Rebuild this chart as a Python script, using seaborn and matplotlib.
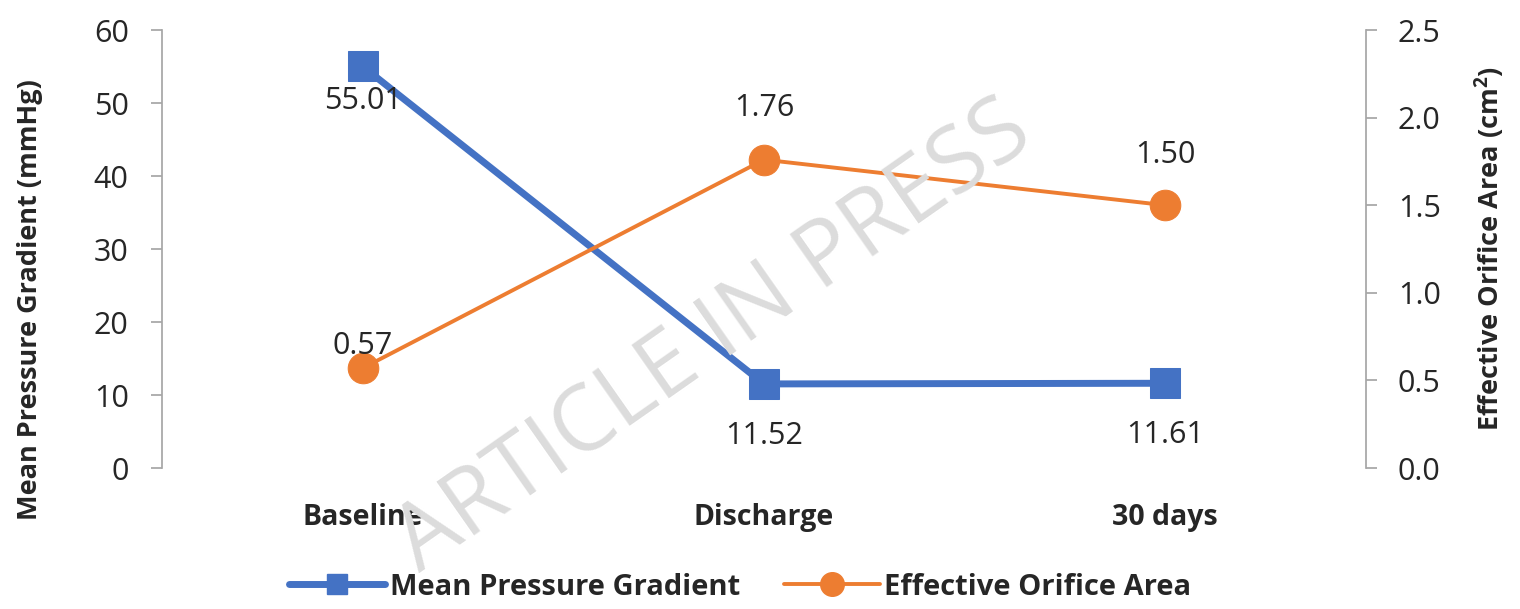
import matplotlib
matplotlib.use("Agg")
import matplotlib.pyplot as plt
import seaborn as sns
import pandas as pd
from matplotlib.lines import Line2D

categories = ["Baseline", "Discharge", "30 days"]
mpg_values = [55.01, 11.52, 11.61]
eoa_values = [0.57, 1.76, 1.50]
mpg_labels = ["55.01", "11.52", "11.61"]
eoa_labels = ["0.57", "1.76", "1.50"]
left_ticks = [0, 10, 20, 30, 40, 50, 60]
right_ticks = [0.0, 0.5, 1.0, 1.5, 2.0, 2.5]

# label offsets (pixels, styling only)
mpg_offsets = [-35, -52, -52]
eoa_offsets = [22, 52, 50]

sns.set_theme(style="white")
plt.rcParams["font.family"] = ["Open Sans", "DejaVu Sans"]
plt.rcParams["mathtext.fontset"] = "custom"
plt.rcParams["mathtext.bf"] = "Open Sans:bold"
plt.rcParams["mathtext.rm"] = "Open Sans"

BLUE = "#4472C4"
ORANGE = "#ED7D31"

df = pd.DataFrame({"x": list(range(len(categories))), "mpg": mpg_values, "eoa": eoa_values})

fig = plt.figure(figsize=(15.2, 6.09), dpi=100)
ax = fig.add_axes([0.1066, 0.2315, 0.7921, 0.7192])
ax2 = ax.twinx()

fig.text(0.47, 0.445, "ARTICLE IN PRESS", fontsize=66, color="#dcdcdc",
         rotation=35, ha="center", va="center", zorder=0)

sns.lineplot(data=df, x="x", y="mpg", ax=ax, color=BLUE, linewidth=5,
             marker="s", markersize=21, markeredgecolor=BLUE, markerfacecolor=BLUE, zorder=3)
sns.lineplot(data=df, x="x", y="eoa", ax=ax2, color=ORANGE, linewidth=2.8,
             marker="o", markersize=22, markeredgecolor=ORANGE, markerfacecolor=ORANGE, zorder=3)

ax.set_xlim(-0.5, 2.5)
ax.set_ylim(0, 60)
ax2.set_ylim(0, 2.5)
ax.set_yticks(left_ticks)
ax.set_yticklabels([str(t) for t in left_ticks])
ax2.set_yticks(right_ticks)
ax2.set_yticklabels([f"{t:.1f}" for t in right_ticks])
ax.set_xticks(range(len(categories)))
ax.set_xticklabels(categories, fontweight="bold", fontsize=20.5)

for a in (ax, ax2):
    a.patch.set_alpha(0)
    for s in a.spines.values():
        s.set_visible(False)
ax.spines["left"].set_visible(True)
ax.spines["left"].set_color("#a6a6a6")
ax2.spines["right"].set_visible(True)
ax2.spines["right"].set_color("#a6a6a6")

ax.tick_params(axis="y", which="both", left=True, length=8, color="#a6a6a6", labelsize=22, pad=16)
ax.tick_params(axis="x", bottom=False, pad=19)
ax2.tick_params(axis="y", which="both", right=True, length=8, color="#a6a6a6", labelsize=22, pad=15)

ax.set_xlabel("")
ax.set_ylabel("Mean Pressure Gradient (mmHg)", fontweight="bold", fontsize=19.5)
ax.yaxis.set_label_coords(-0.099, 0.385)
ax2.set_ylabel("Effective Orifice Area (cm$^\\mathbf{2}$)", fontweight="bold", fontsize=19.5)
ax2.yaxis.set_label_coords(1.089, 0.5)

for i, (v, lab) in enumerate(zip(mpg_values, mpg_labels)):
    ax.annotate(lab, (i, v), xytext=(0, mpg_offsets[i]), textcoords="offset pixels",
                ha="center", va="center", fontsize=22, zorder=4)
for i, (v, lab) in enumerate(zip(eoa_values, eoa_labels)):
    ax2.annotate(lab, (i, v), xytext=(0, eoa_offsets[i]), textcoords="offset pixels",
                 ha="center", va="center", fontsize=22, zorder=4)

handles = [
    Line2D([0], [0], color=BLUE, lw=5, marker="s", markersize=15, label="Mean Pressure Gradient"),
    Line2D([0], [0], color=ORANGE, lw=2.8, marker="o", markersize=17, label="Effective Orifice Area"),
]
fig.legend(handles=handles, loc="center", bbox_to_anchor=(0.487, 0.036), ncol=2, frameon=False,
           prop={"weight": "bold", "size": 21}, handlelength=3.3, columnspacing=1.5, handletextpad=0.15)

fig.savefig("out.png", dpi=100)
